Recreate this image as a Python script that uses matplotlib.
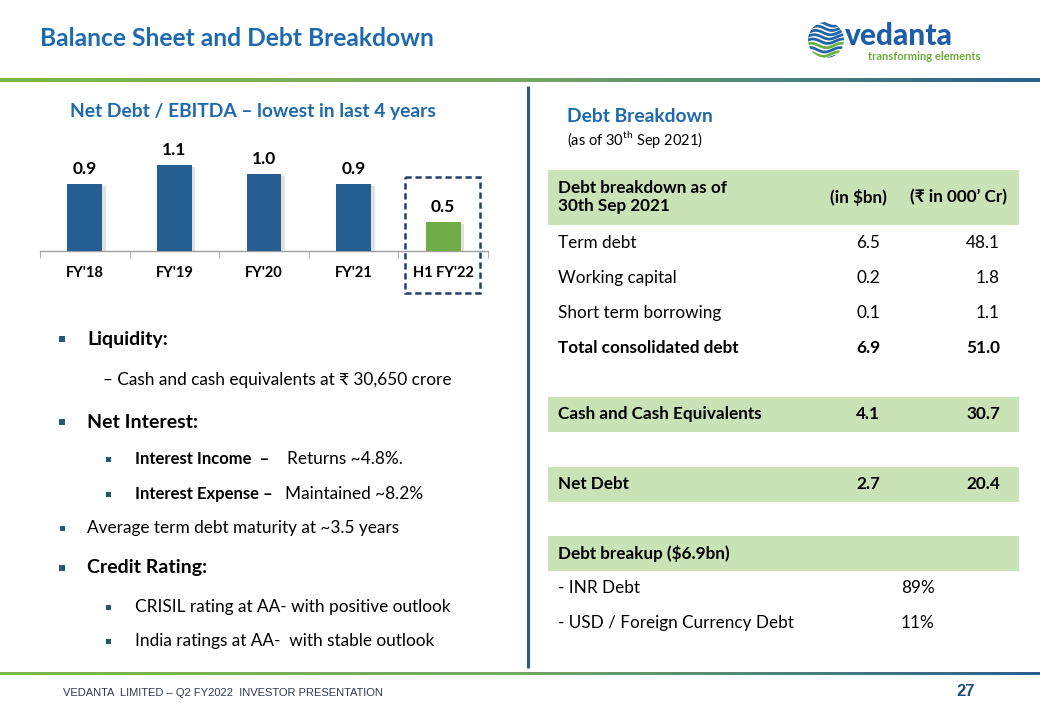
import numpy as np
import matplotlib
matplotlib.use('Agg')
import matplotlib.pyplot as plt
from matplotlib.patches import Rectangle, Circle
import matplotlib.patheffects as pe
from matplotlib.colors import LinearSegmentedColormap

# ---------------- data ----------------
ratio_categories = ["FY'18", "FY'19", "FY'20", "FY'21", "H1 FY'22"]
ratio_values = [0.87, 1.12, 1.00, 0.87, 0.38]      # bar heights
ratio_labels = ["0.9", "1.1", "1.0", "0.9", "0.5"]  # printed labels

table_header = ["Debt breakdown as of\n30th Sep 2021", "(in $bn)", "(₹ in 000’ Cr)"]
debt_items = ["Term debt", "Working capital", "Short term borrowing", "Total consolidated debt"]
debt_usd_bn = [6.5, 0.2, 0.1, 6.9]
debt_inr_000cr = [48.1, 1.8, 1.1, 51.0]
summary_items = ["Cash and Cash Equivalents", "Net Debt"]
summary_usd_bn = [4.1, 2.7]
summary_inr_000cr = [30.7, 20.4]
breakup_title = "Debt breakup ($6.9bn)"
breakup_items = ["- INR Debt", "- USD / Foreign Currency Debt"]
breakup_share = [89, 11]

# ---------------- style ----------------
FONT = ['Lato', 'DejaVu Sans']
plt.rcParams['font.family'] = FONT
plt.rcParams['mathtext.fontset'] = 'custom'
plt.rcParams['mathtext.rm'] = 'Lato'
BLUE_T = '#1F6AAE'
BAR_BLUE = '#255E91'
BAR_GREEN = '#70AD47'
BAND = '#C9E3B6'
BUL = '#1F5A78'
TS = 12.3  # table text size

fig = plt.figure(figsize=(10.4, 7.2), dpi=100)
ov = fig.add_axes([0, 0, 1, 1])
ov.set_zorder(0)

# gradient lines
cmap = LinearSegmentedColormap.from_list('g', ['#7DB84A', '#72A862', '#2A5F92'])
grad = np.linspace(0, 1, 512)[None, :]
ov.imshow(grad, cmap=cmap, extent=(0, 1040, 82, 78), aspect='auto')
ov.imshow(grad, cmap=cmap, extent=(0, 1040, 675, 672), aspect='auto')
ov.plot([528, 528], [86, 668], color='#2A5A8C', lw=2.2, solid_capstyle='butt')
ov.set_xlim(0, 1040)
ov.set_ylim(720, 0)
ov.axis('off')

# title
ov.text(40, 38, "Balance Sheet and Debt Breakdown", fontsize=17.7, fontweight='bold',
        color=BLUE_T, va='center', ha='left')

# logo
cx, cy, r = 826, 40, 18
clip = Circle((cx, cy), r, transform=ov.transData, facecolor='none', edgecolor='none')
ov.add_patch(clip)
xs = np.linspace(cx - r, cx + r, 80)
for k in range(9):
    y0 = cy - r + 2 + k * 4.3
    ys = y0 + 2.2 * np.sin((xs - cx) / r * np.pi * 1.2 + k * 0.3)
    col = '#2164A8' if k < 5 else ('#6DB33F' if k % 2 == 1 else '#2164A8')
    ln, = ov.plot(xs, ys, color=col, lw=2.0)
    ln.set_clip_path(clip)
ov.text(845, 45, "vedanta", fontsize=21.5, fontweight='black', color='#1F5DA8', va='baseline', ha='left')
ov.text(868, 57, "transforming elements", fontsize=8, fontweight='bold', color='#6AAA3A',
        va='center', ha='left')

# ---------------- bar chart ----------------
px_per_unit = 77
ax_h = 1.5 * px_per_unit
ax = fig.add_axes([40 / 1040, (720 - 251) / 720, 448 / 1040, ax_h / 720])
ax.set_zorder(2)
ax.patch.set_alpha(0)
x = np.arange(len(ratio_categories))
colors = [BAR_BLUE] * (len(x) - 1) + [BAR_GREEN]
bars = ax.bar(x, ratio_values, width=0.39, color=colors, zorder=3)
for b in bars:
    b.set_path_effects([pe.SimplePatchShadow(offset=(2.5, -1.5), shadow_rgbFace='#999999', alpha=0.3),
                        pe.Normal()])
for xi, v, lab in zip(x, ratio_values, ratio_labels):
    ax.annotate(lab, (xi, v), xytext=(0, 5), textcoords='offset points', ha='center', va='bottom',
                fontsize=12.5, fontweight='bold', color='black')
ax.set_xlim(-0.5, len(x) - 0.5)
ax.set_ylim(0, 1.5)
for s in ['top', 'right', 'left']:
    ax.spines[s].set_visible(False)
ax.spines['bottom'].set_color('#A0A0A0')
ax.spines['bottom'].set_linewidth(1.0)
ax.set_yticks([])
ax.set_xticks(x)
ax.set_xticklabels(ratio_categories, fontsize=10.5, fontweight='bold')
ax.set_xticks(np.arange(-0.5, len(x)), minor=True)
ax.tick_params(axis='x', which='major', length=0, pad=11)
ax.tick_params(axis='x', which='minor', length=5, color='#A0A0A0', direction='out')

# chart title
ov.text(70, 111, "Net Debt / EBITDA – lowest in last 4 years", fontsize=13.85, fontweight='bold',
        color=BLUE_T, va='center', ha='left')
# highlight box
ov.add_patch(Rectangle((405, 177), 75, 116, fill=False, edgecolor='#1F3F6E', lw=1.8,
                       linestyle=(0, (2.5, 1.5)), zorder=5))

# ---------------- bullets ----------------
def bullet(xb, yb, size):
    ov.add_patch(Rectangle((xb - size / 2, yb - size / 2), size, size, color=BUL, lw=0))

BS = 12.4
bullet(62, 339, 6.5)
ov.text(87, 339, "Liquidity:", fontsize=14, fontweight='bold', va='center')
ov.text(103, 380, "– Cash and cash equivalents at ₹ 30,650 crore", fontsize=BS, va='center')
bullet(62, 422, 6.5)
ov.text(87, 422, "Net Interest:", fontsize=14, fontweight='bold', va='center')
bullet(108, 459, 5)
ov.text(135, 459, "Interest Income  –", fontsize=12, fontweight='bold', va='center')
ov.text(287, 459, "Returns ~4.8%.", fontsize=BS, va='center')
bullet(108, 494, 5)
ov.text(135, 494, "Interest Expense –", fontsize=12, fontweight='bold', va='center')
ov.text(285, 494, "Maintained ~8.2%", fontsize=BS, va='center')
bullet(62, 528, 5)
ov.text(87, 528, "Average term debt maturity at ~3.5 years", fontsize=BS, va='center')
bullet(62, 568, 6.5)
ov.text(87, 568, "Credit Rating:", fontsize=14, fontweight='bold', va='center')
bullet(108, 607, 5)
ov.text(135, 607, "CRISIL rating at AA- with positive outlook", fontsize=BS, va='center')
bullet(108, 641, 5)
ov.text(135, 641, "India ratings at AA-  with stable outlook", fontsize=BS, va='center')

# ---------------- table ----------------
ov.text(567, 116, "Debt Breakdown", fontsize=13.9, fontweight='bold', color=BLUE_T, va='center')
ov.text(567, 139, r"(as of 30$^{\rm th}$ Sep 2021)", fontsize=10.5, va='center')

TL, TR = 548, 1019
C1, C2 = 880, 1000
ov.add_patch(Rectangle((TL, 170), TR - TL, 55, color=BAND, lw=0))
ov.text(558, 197, table_header[0], fontsize=12.3, fontweight='bold', va='center', linespacing=1.2)
ov.text(887, 197, table_header[1], fontsize=12.3, fontweight='bold', va='center', ha='right')
ov.text(1007, 197, table_header[2], fontsize=12.3, fontweight='bold', va='center', ha='right')

row_y = [243, 278, 313, 348]
for i, (name, u, rr) in enumerate(zip(debt_items, debt_usd_bn, debt_inr_000cr)):
    w = 'bold' if i == len(debt_items) - 1 else 'normal'
    ov.text(558, row_y[i], name, fontsize=TS, fontweight=w, va='center')
    ov.text(C1, row_y[i], f"{u:.1f}", fontsize=TS, fontweight=w, va='center', ha='right')
    ov.text(C2, row_y[i], f"{rr:.1f}", fontsize=TS, fontweight=w, va='center', ha='right')

band_tops = [397, 467]
for top, name, u, rr in zip(band_tops, summary_items, summary_usd_bn, summary_inr_000cr):
    ov.add_patch(Rectangle((TL, top), TR - TL, 35, color=BAND, lw=0))
    yc = top + 17
    ov.text(558, yc, name, fontsize=TS, fontweight='bold', va='center')
    ov.text(C1, yc, f"{u:.1f}", fontsize=TS, fontweight='bold', va='center', ha='right')
    ov.text(C2, yc, f"{rr:.1f}", fontsize=TS, fontweight='bold', va='center', ha='right')

ov.add_patch(Rectangle((TL, 536), TR - TL, 35, color=BAND, lw=0))
ov.text(558, 553, breakup_title, fontsize=TS, fontweight='bold', va='center')
for yy, name, sh in zip([588, 623], breakup_items, breakup_share):
    ov.text(558, yy, name, fontsize=TS, va='center')
    ov.text(901, yy, f"{sh}%", fontsize=TS, va='center', ha='left')

# ---------------- footer ----------------
FOOT_FAM = ['Liberation Sans Narrow', 'Liberation Sans', 'DejaVu Sans']
foot = ov.text(63, 693, "VEDANTA  LIMITED – Q2 FY2022  INVESTOR PRESENTATION", fontsize=9,
               family=FOOT_FAM, color='#2B3A55', va='center')
ov.text(975, 692, "27", fontsize=12, fontweight='bold', family=FOOT_FAM,
        color='#1F4E79', va='center', ha='right')
# fit footer text width to the slide's footer width (~322 px)
rend = fig.canvas.get_renderer()
wpx = foot.get_window_extent(rend).width
foot.set_fontsize(9 * 322 / wpx)

fig.savefig('out.png', dpi=100)
